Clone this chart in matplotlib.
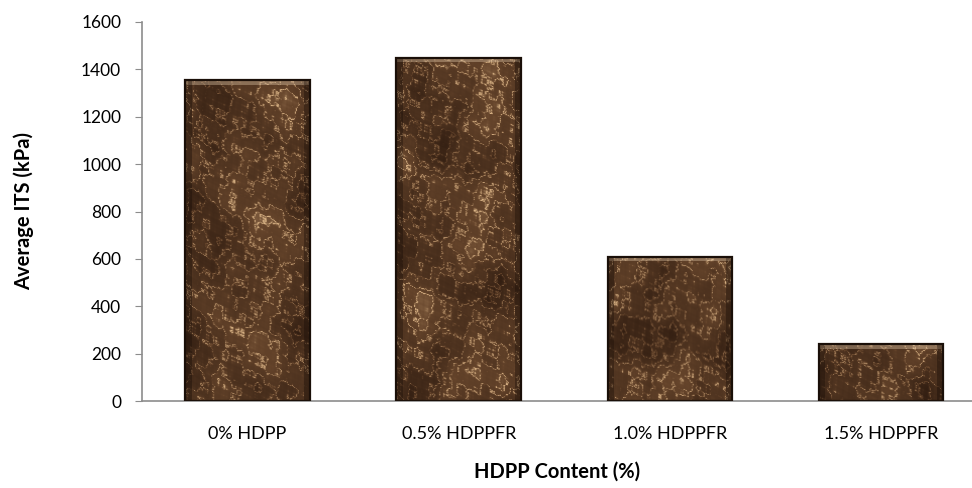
import numpy as np
import matplotlib
matplotlib.use("Agg")
import matplotlib.pyplot as plt
from matplotlib.patches import Rectangle

categories = ["0% HDPP", "0.5% HDPPFR", "1.0% HDPPFR", "1.5% HDPPFR"]
its_values = [1355, 1450, 610, 240]
y_ticks = [0, 200, 400, 600, 800, 1000, 1200, 1400, 1600]

plt.rcParams["font.family"] = ["Lato", "DejaVu Sans"]


def marble_texture(h, w, phase):
    """Deterministic brown marble pattern built from layered sinusoids."""
    yy, xx = np.mgrid[0:h, 0:w].astype(float)
    n = np.zeros((h, w))
    amp = 1.0
    for k in range(1, 7):
        f = 0.02 * (1.9 ** k)
        n += amp * np.sin(f * xx * (1.3 + 0.17 * k) + f * yy * (0.7 - 0.11 * k) + phase * k
                          + 2.0 * np.sin(0.013 * k * yy + 0.9 * k + phase))
        n += amp * np.cos(f * yy * (1.1 + 0.13 * k) - f * xx * (0.5 + 0.07 * k) + 1.7 * k
                          + 1.5 * np.cos(0.017 * k * xx + phase))
        amp *= 0.6
    n = (n - n.min()) / (n.max() - n.min())
    veins = np.abs(np.sin(5.0 * n * np.pi + 0.03 * xx + 0.02 * yy))
    t = 0.6 * n + 0.55 * (1 - veins) ** 4
    t = np.clip(t, 0, 1)
    dark = np.array([0.20, 0.12, 0.07])
    mid = np.array([0.40, 0.27, 0.17])
    light = np.array([0.85, 0.70, 0.52])
    img = np.where(t[..., None] < 0.5,
                   dark + (mid - dark) * (t[..., None] / 0.5),
                   mid + (light - mid) * ((t[..., None] - 0.5) / 0.5))
    return img


fig = plt.figure(figsize=(9.72, 4.88), dpi=100)
ax = fig.add_axes([142 / 972, 87 / 488, 1 - 142 / 972, 379 / 488])

x = np.arange(len(categories))
width = 0.59
bars = ax.bar(x, its_values, width=width, color="none", edgecolor="none", zorder=2)

for i, b in enumerate(bars):
    x0, y0 = b.get_x(), b.get_y()
    w, h = b.get_width(), b.get_height()
    tex = marble_texture(max(int(h / 1600 * 380), 10), 124, phase=1.3 * i + 0.4)
    im = ax.imshow(tex, extent=(x0, x0 + w, y0, y0 + h), aspect="auto",
                   zorder=2, interpolation="bilinear")
    clip = Rectangle((x0, y0), w, h, transform=ax.transData)
    im.set_clip_path(clip)
    # bevel highlight along the top and darker side edges
    ax.add_patch(Rectangle((x0, y0 + h - 20), w, 20, facecolor="#f0d8b8",
                           alpha=0.35, edgecolor="none", zorder=3))
    ax.add_patch(Rectangle((x0, y0), 0.03, h, facecolor="#140a05",
                           alpha=0.35, edgecolor="none", zorder=3))
    ax.add_patch(Rectangle((x0 + w - 0.03, y0), 0.03, h, facecolor="#140a05",
                           alpha=0.35, edgecolor="none", zorder=3))
    ax.add_patch(Rectangle((x0, y0), w, h, facecolor="none",
                           edgecolor="#1a0f08", linewidth=1.6, zorder=4))

ax.set_xlim(-0.5, 3.43)
ax.set_ylim(0, 1600)
ax.set_yticks(y_ticks)
ax.set_xticks(x)
ax.set_xticklabels(categories, fontsize=13)
ax.tick_params(axis="x", length=0, pad=18)
ax.tick_params(axis="y", length=5, color="#8c8c8c", labelsize=12.5, pad=10)

for side in ["top", "right"]:
    ax.spines[side].set_visible(False)
for side in ["left", "bottom"]:
    ax.spines[side].set_color("#8c8c8c")
    ax.spines[side].set_linewidth(1.2)

ax.set_xlabel("HDPP Content (%)", fontsize=14.5, fontweight="bold", labelpad=14)
ax.set_ylabel("Average ITS (kPa)", fontsize=14.5, fontweight="bold", labelpad=34)

fig.savefig("out.png", dpi=100)
